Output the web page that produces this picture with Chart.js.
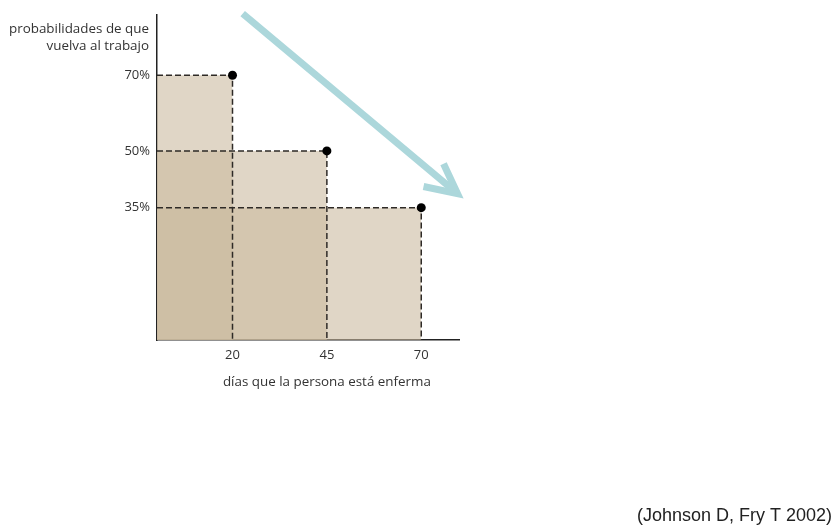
<!DOCTYPE html>
<html>
<head>
<meta charset="utf-8">
<script src="https://cdn.jsdelivr.net/npm/chart.js@4"></script>
<style>
  html, body { margin: 0; padding: 0; background: #fff; }
  canvas { display: block; }
</style>
</head>
<body>
<canvas id="chart" width="837" height="530"></canvas>
<script>
// datos
const dias = [20, 45, 70]
const probabilidades = [70, 50, 35]
const xTicks = [20, 45, 70]
const yTicks = [35, 50, 70]
const tituloY = ["probabilidades de que", "vuelva al trabajo"]
const tituloX = "días que la persona está enferma"
const fuente = "(Johnson D, Fry T 2002)"

// flecha decorativa, en coordenadas de datos
const flechaCuerpo = [{x: 22.7, y: 86.3}, {x: 79.6, y: 38.7}]
const flechaPunta = [{x: 75.9, y: 46.6}, {x: 79.6, y: 38.7}, {x: 70.6, y: 40.6}]

const relleno = "rgba(203,187,160,0.6)"
const guion = "#2e2a26"

// un rectangulo por punto: arriba, esquina, abajo
const rects = dias.map((d, i) => ({
  data: [{x: 0, y: probabilidades[i]}, {x: d, y: probabilidades[i]}, {x: d, y: 0}],
  borderColor: guion,
  borderWidth: 1.5,
  borderDash: [6, 3],
  backgroundColor: relleno,
  fill: 'origin',
  pointRadius: [0, 4.5, 0],
  pointBackgroundColor: "#000",
  pointBorderWidth: 0,
  tension: 0
}))

const flechas = [flechaCuerpo, flechaPunta].map(pts => ({
  data: pts,
  borderColor: "#acd7db",
  borderWidth: 7,
  borderCapStyle: 'butt',
  borderJoinStyle: 'miter',
  pointRadius: 0,
  fill: false,
  clip: false
}))

const textos = {
  id: 'textos',
  afterDraw(chart) {
    const ctx = chart.ctx
    const area = chart.chartArea
    const x = chart.scales.x
    ctx.save()
    ctx.fillStyle = "#333"
    ctx.font = "13.4px 'Open Sans'"
    ctx.textAlign = 'right'
    ctx.textBaseline = 'middle'
    tituloY.forEach((t, i) => ctx.fillText(t, area.left - 8, 29 + i * 17))
    ctx.textAlign = 'center'
    ctx.fillText(tituloX, x.getPixelForValue(45), area.bottom + 42)
    ctx.fillStyle = "#222"
    ctx.font = "18px 'Liberation Sans'"
    ctx.textAlign = 'right'
    ctx.fillText(fuente, 832, 516)
    ctx.restore()
  }
}

new Chart(document.getElementById("chart"), {
  type: 'scatter',
  data: { datasets: [...rects, ...flechas] },
  options: {
    responsive: false,
    animation: false,
    showLine: true,
    layout: { padding: { left: 0, top: 12, right: 378, bottom: 160 } },
    plugins: {
      legend: { display: false },
      tooltip: { enabled: false },
      filler: { drawTime: 'beforeDatasetsDraw' }
    },
    scales: {
      x: {
        type: 'linear',
        min: 0,
        max: 80,
        grid: { display: false, drawTicks: false },
        border: { display: true, color: "#222", width: 1.5 },
        afterBuildTicks: s => { s.ticks = xTicks.map(v => ({value: v})) },
        afterFit: s => { s.height = 30 },
        ticks: { color: "#333", font: { family: "'Open Sans'", size: 13 }, padding: 7 }
      },
      y: {
        type: 'linear',
        min: 0,
        max: 86,
        grid: { display: false, drawTicks: false },
        border: { display: true, color: "#222", width: 1.5 },
        afterBuildTicks: s => { s.ticks = yTicks.map(v => ({value: v})) },
        afterFit: s => { s.width = 157 },
        ticks: {
          color: "#333",
          font: { family: "'Open Sans'", size: 13 },
          padding: 7,
          callback: v => v + "%"
        }
      }
    }
  },
  plugins: [textos]
})
</script>
</body>
</html>
